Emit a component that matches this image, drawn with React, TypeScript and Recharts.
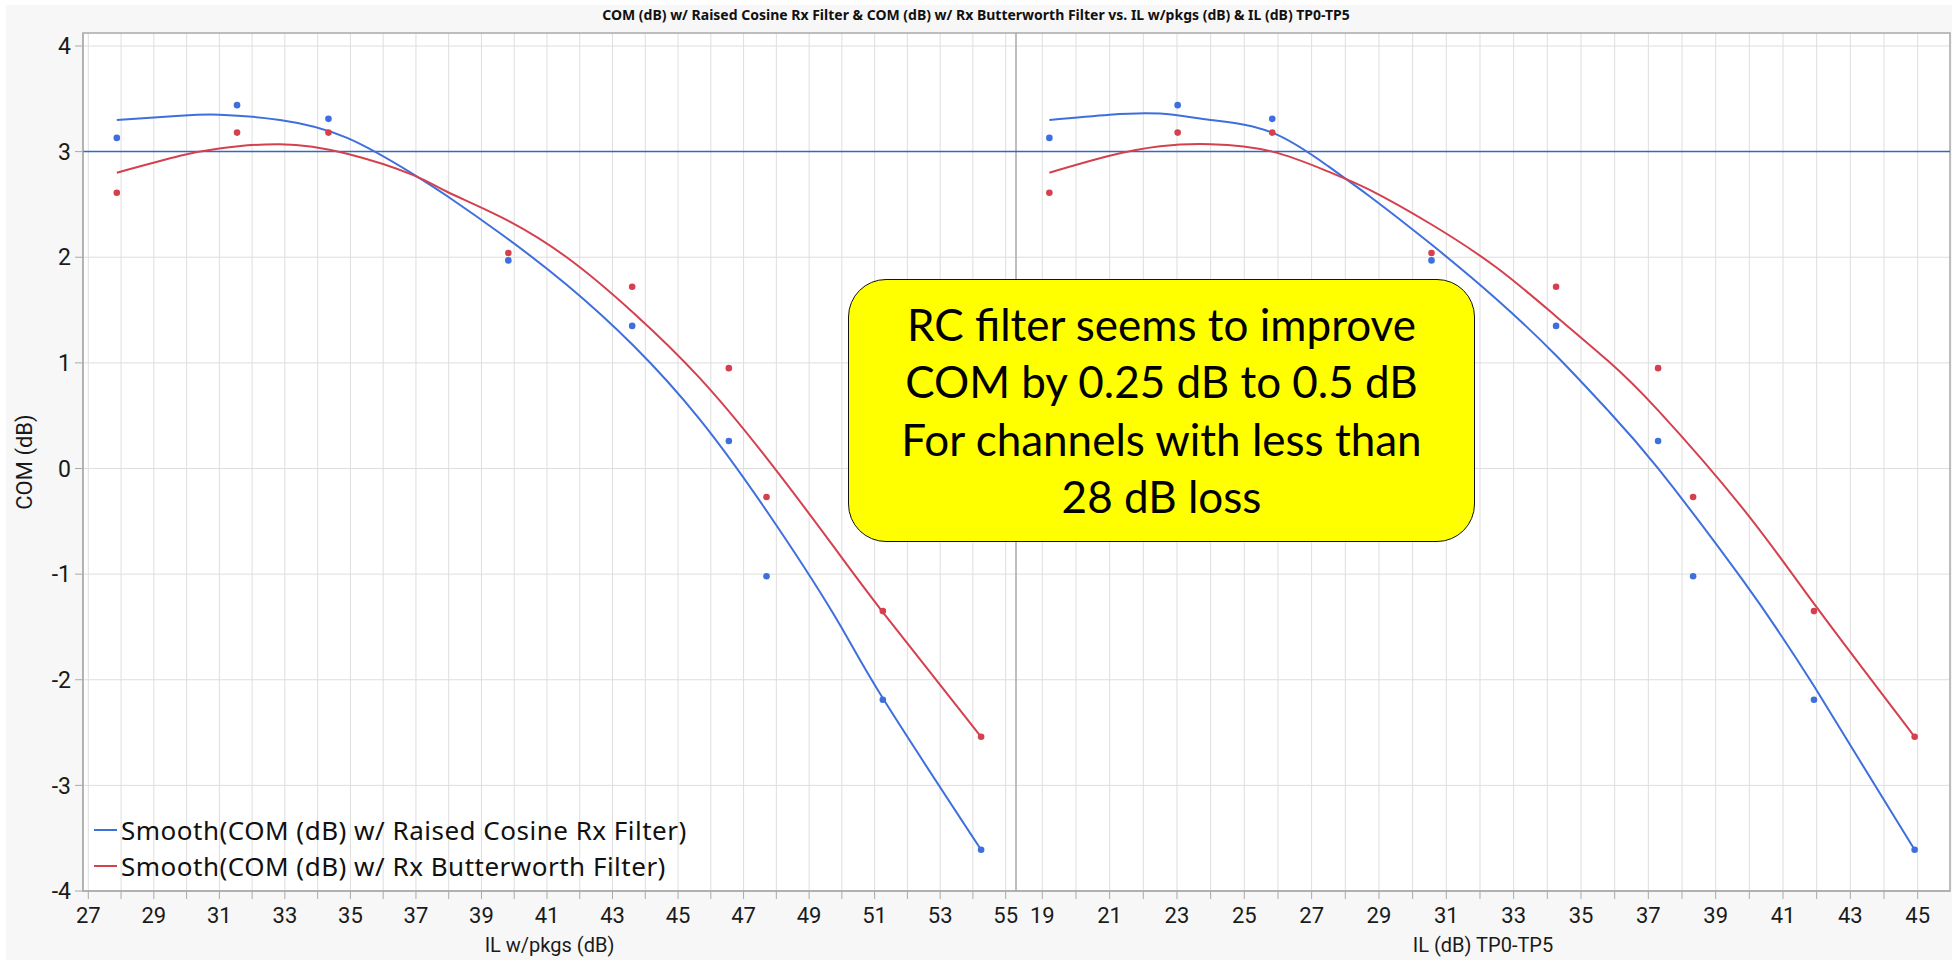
import {
  CartesianGrid,
  ComposedChart,
  Line,
  ReferenceArea,
  ReferenceLine,
  Scatter,
  XAxis,
  YAxis,
} from "recharts";

// measured points (same channels, two different x measures)
const ilPkgs = [27.87, 31.54, 34.33, 39.82, 43.6, 46.55, 47.7, 51.25, 54.25];
const ilTp = [19.21, 23.02, 25.83, 30.56, 34.26, 37.29, 38.33, 41.92, 44.91];
const comRc = [3.13, 3.44, 3.31, 1.97, 1.35, 0.26, -1.02, -2.19, -3.61];
const comBw = [2.61, 3.18, 3.18, 2.04, 1.72, 0.95, -0.27, -1.35, -2.54];

// smoother curves
const smoothPkgsX = [27.87, 29.8, 31.0, 32.85, 34.9, 36.9, 37.95, 39.6, 41.6, 43.65, 45.65, 47.7, 49.75, 51.2, 54.25];
const smoothPkgsRc = [3.3, 3.34, 3.35, 3.3, 3.13, 2.79, 2.58, 2.22, 1.74, 1.16, 0.47, -0.4, -1.38, -2.15, -3.61];
const smoothPkgsBw = [2.8, 2.96, 3.03, 3.07, 2.98, 2.78, 2.62, 2.38, 2.0, 1.47, 0.86, 0.1, -0.74, -1.34, -2.54];

const smoothTpX = [19.21, 21.0, 22.5, 24.0, 25.83, 27.5, 28.71, 30.56, 32.5, 34.26, 35.8, 37.29, 39.81, 41.92, 44.91];
const smoothTpRc = [3.3, 3.35, 3.36, 3.3, 3.18, 2.86, 2.58, 2.12, 1.6, 1.07, 0.55, 0.0, -1.06, -2.06, -3.61];
const smoothTpBw = [2.8, 2.96, 3.05, 3.07, 3.0, 2.81, 2.64, 2.31, 1.9, 1.44, 1.02, 0.55, -0.38, -1.28, -2.54];

const pkgsTicks = [27, 28, 29, 30, 31, 32, 33, 34, 35, 36, 37, 38, 39, 40, 41, 42, 43, 44, 45, 46, 47, 48, 49, 50, 51, 52, 53, 54, 55];
const tpTicks = [19, 20, 21, 22, 23, 24, 25, 26, 27, 28, 29, 30, 31, 32, 33, 34, 35, 36, 37, 38, 39, 40, 41, 42, 43, 44, 45];
const comTicks = [-4, -3, -2, -1, 0, 1, 2, 3, 4];

const specLimit = 3;

const title =
  "COM (dB) w/ Raised Cosine Rx Filter & COM (dB) w/ Rx Butterworth Filter vs. IL w/pkgs (dB) & IL (dB) TP0-TP5";
const seriesNames = [
  "Smooth(COM (dB) w/ Raised Cosine Rx Filter)",
  "Smooth(COM (dB) w/ Rx Butterworth Filter)",
];
const noteLines = [
  "RC filter seems to improve",
  "COM by 0.25 dB to 0.5 dB",
  "For channels with less than",
  "28 dB loss",
];

const BLUE = "#3e6fdd";
const RED = "#d4404e";
const GRID = "#dedede";
const FRAME = "#a9a9a9";
const Y_DOMAIN: [number, number] = [-4, 4.123];

const zip = (xs: number[], ys: number[]) => xs.map((x, i) => ({ x, y: ys[i] }));

const dot = (color: string) => (p: any) => <circle cx={p.cx} cy={p.cy} r={3.3} fill={color} />;

function LegendBox() {
  return (
    <div
      style={{
        position: "absolute",
        left: 94,
        top: 812,
        fontFamily: "'Noto Sans', sans-serif",
        fontSize: 26,
        letterSpacing: 0.5,
        color: "#111",
      }}
    >
      {seriesNames.map((name, i) => (
        <div key={name} style={{ display: "flex", alignItems: "center", height: 36, whiteSpace: "nowrap" }}>
          <span style={{ width: 23, height: 2, background: i === 0 ? BLUE : RED, marginRight: 4 }} />
          {name}
        </div>
      ))}
    </div>
  );
}

interface PanelProps {
  left: number;
  width: number;
  marginLeft: number;
  marginRight: number;
  xDomain: [number, number];
  xTicks: number[];
  xLabel: string;
  pointsX: number[];
  smoothX: number[];
  smoothRc: number[];
  smoothBw: number[];
  showY: boolean;
}

function Panel({
  left,
  width,
  marginLeft,
  marginRight,
  xDomain,
  xTicks,
  xLabel,
  pointsX,
  smoothX,
  smoothRc,
  smoothBw,
  showY,
}: PanelProps) {
  const tickStyle = { fontSize: 22, fill: "#1a1a1a", fontFamily: "Roboto, sans-serif" };
  return (
    <div style={{ position: "absolute", left, top: 0 }}>
      <ComposedChart
        width={width}
        height={960}
        margin={{ top: 33, right: marginRight, bottom: 0, left: marginLeft }}
      >
        <CartesianGrid
          fill="#fff"
          stroke={GRID}
          horizontalValues={comTicks}
          verticalValues={xTicks}
        />
        <XAxis
          type="number"
          dataKey="x"
          domain={xDomain}
          ticks={xTicks}
          allowDataOverflow
          height={69}
          tickSize={8}
          tickMargin={8}
          interval={0}
          stroke={FRAME}
          tick={tickStyle}
          tickFormatter={(v: number) => (Math.abs(v % 2) === 1 ? String(v) : "")}
          label={{
            value: xLabel,
            position: "insideBottom",
            offset: 8,
            style: { fontSize: 20, fill: "#1a1a1a", fontFamily: "Roboto, sans-serif" },
          }}
        />
        <YAxis
          type="number"
          dataKey="y"
          domain={Y_DOMAIN}
          ticks={comTicks}
          allowDataOverflow
          hide={!showY}
          width={70}
          tickSize={8}
          tickMargin={4}
          interval={0}
          stroke={FRAME}
          tick={{ ...tickStyle, fontSize: 23 }}
          label={{
            value: "COM (dB)",
            angle: -90,
            position: "insideLeft",
            offset: 11,
            style: { textAnchor: "middle", fontSize: 22, fill: "#1a1a1a", fontFamily: "Roboto, sans-serif" },
          }}
        />
        <ReferenceArea
          x1={xDomain[0]}
          x2={xDomain[1]}
          y1={Y_DOMAIN[0]}
          y2={Y_DOMAIN[1]}
          fill="none"
          stroke={FRAME}
          strokeWidth={1.5}
          ifOverflow="visible"
        />
        <ReferenceLine y={specLimit} stroke="#3767c5" strokeWidth={1.5} />
        <Line
          data={zip(smoothX, smoothRc)}
          dataKey="y"
          type="natural"
          stroke={BLUE}
          strokeWidth={2}
          dot={false}
          isAnimationActive={false}
        />
        <Line
          data={zip(smoothX, smoothBw)}
          dataKey="y"
          type="natural"
          stroke={RED}
          strokeWidth={2}
          dot={false}
          isAnimationActive={false}
        />
        <Scatter data={zip(pointsX, comRc)} dataKey="y" shape={dot(BLUE)} isAnimationActive={false} />
        <Scatter data={zip(pointsX, comBw)} dataKey="y" shape={dot(RED)} isAnimationActive={false} />
      </ComposedChart>
    </div>
  );
}

export default function App() {
  return (
    <div style={{ position: "absolute", left: 0, top: 0, width: 1952, height: 960, background: "#fff", overflow: "hidden" }}>
      <div style={{ position: "absolute", left: 6, top: 5, width: 1946, height: 955, background: "#f7f7f7" }} />
      <div
        style={{
          position: "absolute",
          left: 0,
          top: 5,
          width: 1952,
          textAlign: "center",
          fontFamily: "'Noto Sans', sans-serif",
          fontWeight: 700,
          fontSize: 14,
          lineHeight: "20px",
          color: "#111",
        }}
      >
        {title}
      </div>
      <Panel
        left={0}
        width={1041}
        marginLeft={13}
        marginRight={25}
        xDomain={[26.838, 55.315]}
        xTicks={pkgsTicks}
        xLabel="IL w/pkgs (dB)"
        pointsX={ilPkgs}
        smoothX={smoothPkgsX}
        smoothRc={smoothPkgsRc}
        smoothBw={smoothPkgsBw}
        showY
      />
      <Panel
        left={1016}
        width={936}
        marginLeft={0}
        marginRight={2}
        xDomain={[18.219, 45.96]}
        xTicks={tpTicks}
        xLabel="IL (dB) TP0-TP5"
        pointsX={ilTp}
        smoothX={smoothTpX}
        smoothRc={smoothTpRc}
        smoothBw={smoothTpBw}
        showY={false}
      />
      <LegendBox />
      <div
        style={{
          position: "absolute",
          left: 848,
          top: 279,
          width: 627,
          height: 263,
          boxSizing: "border-box",
          background: "#ffff00",
          border: "1.5px solid #111",
          borderRadius: 38,
          display: "flex",
          flexDirection: "column",
          justifyContent: "center",
          alignItems: "center",
          fontFamily: "Lato, sans-serif",
          fontSize: 44,
          lineHeight: "57.5px",
          color: "#000",
        }}
      >
        {noteLines.map((l) => (
          <div key={l} style={{ whiteSpace: "nowrap" }}>
            {l}
          </div>
        ))}
      </div>
    </div>
  );
}
